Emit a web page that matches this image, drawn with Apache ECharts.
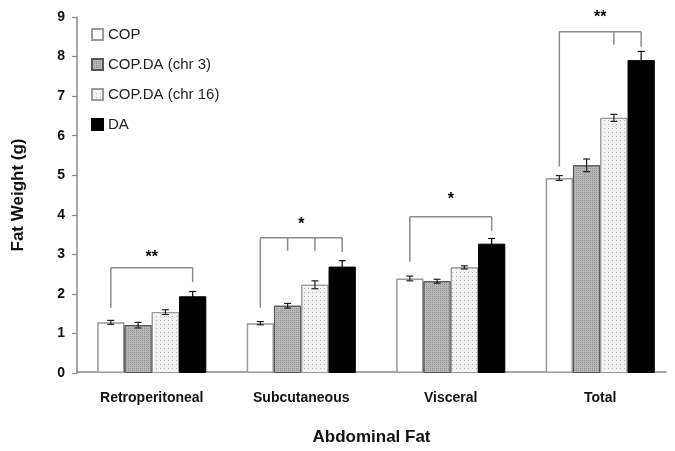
<!DOCTYPE html>
<html>
<head>
<meta charset="utf-8">
<script src="https://cdn.jsdelivr.net/npm/echarts@6/dist/echarts.min.js"></script>
<style>
html,body{margin:0;padding:0;background:#fff;}
#chart{width:675px;height:451px;}
</style>
</head>
<body>
<div id="chart"></div>
<script>
// ---- data ----
const categories = ['Retroperitoneal', 'Subcutaneous', 'Visceral', 'Total'];
const seriesNames = ['COP', 'COP.DA (chr 3)', 'COP.DA (chr 16)', 'DA'];
const copValues   = [1.28, 1.26, 2.39, 4.93];
const chr3Values  = [1.21, 1.70, 2.32, 5.25];
const chr16Values = [1.54, 2.23, 2.67, 6.45];
const daValues    = [1.94, 2.69, 3.27, 7.91];
const copErr   = [0.05, 0.04, 0.06, 0.06];
const chr3Err  = [0.07, 0.06, 0.05, 0.16];
const chr16Err = [0.06, 0.10, 0.04, 0.09];
const daErr    = [0.12, 0.15, 0.13, 0.22];
const yTicks = [0, 1, 2, 3, 4, 5, 6, 7, 8, 9];
// significance brackets: top level, legs [barIndex, leg bottom], star text, star level
const bracketTop = [2.66, 3.42, 3.95, 8.63];
const bracketLegs = [
  [[0, 1.65], [3, 2.30]],
  [[0, 1.65], [1, 3.09], [2, 3.09], [3, 3.06]],
  [[0, 2.81], [3, 3.60]],
  [[0, 5.22], [2, 8.30], [3, 8.25]]
];
const starLabels = ['**', '*', '*', '**'];
const starLevel = [2.91, 3.74, 4.38, 8.98];

// ---- build ----
const allValues = [copValues, chr3Values, chr16Values, daValues];
const allErr = [copErr, chr3Err, chr16Err, daErr];
const CAT_GAP = 0.27;
const FONT = 'Liberation Sans, Arial, sans-serif';

const errData = [];
allValues.forEach((vals, s) => vals.forEach((v, c) => errData.push([c, s, v, allErr[s][c]])));
const bracketData = categories.map((c, i) => [i, bracketTop[i], starLevel[i]]);

function barX(api, cat, idx) {
  const center = api.coord([cat, 0])[0];
  const band = api.size([1, 0])[0];
  const groupW = band * (1 - CAT_GAP);
  const bw = groupW / 4;
  return center - groupW / 2 + bw * (idx + 0.5);
}

const barStyles = [
  { color: '#ffffff', borderColor: '#9a9a9a', borderWidth: 1.5 },
  { color: '#b8b8b8', borderColor: '#555555', borderWidth: 1,
    decal: { symbol: 'rect', symbolSize: 1, dashArrayX: [1, 1], dashArrayY: [1, 1], color: '#909090', rotation: 0 } },
  { color: '#f3f3f3', borderColor: '#9a9a9a', borderWidth: 1,
    decal: { symbol: 'rect', symbolSize: 1, dashArrayX: [1, 3], dashArrayY: [1, 3], color: '#b0b0b0', rotation: 0 } },
  { color: '#000000', borderColor: '#000000', borderWidth: 1 }
];

const series = seriesNames.map((name, s) => ({
  name: name,
  type: 'bar',
  xAxisIndex: 0, yAxisIndex: 0,
  data: allValues[s],
  barGap: '0%',
  barCategoryGap: (CAT_GAP * 100) + '%',
  itemStyle: barStyles[s],
  emphasis: { disabled: true },
  animation: false
}));

series.push({
  type: 'custom',
  xAxisIndex: 0, yAxisIndex: 0,
  data: errData,
  encode: { x: 0, y: 2 },
  z: 5,
  silent: true,
  animation: false,
  renderItem: function (params, api) {
    const cat = api.value(0), idx = api.value(1), v = api.value(2), e = api.value(3);
    const x = barX(api, cat, idx);
    const yt = api.coord([cat, v + e])[1];
    const yb = api.coord([cat, v - e])[1];
    const cap = 3.5;
    const st = { stroke: idx === 3 ? '#000' : '#222', lineWidth: 1.2 };
    return { type: 'group', children: [
      { type: 'line', shape: { x1: x, y1: yt, x2: x, y2: yb }, style: st },
      { type: 'line', shape: { x1: x - cap, y1: yt, x2: x + cap, y2: yt }, style: st },
      { type: 'line', shape: { x1: x - cap, y1: yb, x2: x + cap, y2: yb }, style: st }
    ]};
  }
});

series.push({
  type: 'custom',
  xAxisIndex: 0, yAxisIndex: 0,
  data: bracketData,
  encode: { x: 0, y: 1 },
  z: 6,
  clip: false,
  silent: true,
  animation: false,
  renderItem: function (params, api) {
    const i = params.dataIndex;
    const cat = api.value(0);
    const yTop = api.coord([cat, api.value(1)])[1];
    const legs = bracketLegs[i];
    const xs = legs.map(l => barX(api, cat, l[0]));
    const st = { stroke: '#8c8c8c', lineWidth: 1.5 };
    const children = [
      { type: 'line', shape: { x1: xs[0], y1: yTop, x2: xs[xs.length - 1], y2: yTop }, style: st }
    ];
    legs.forEach((l, k) => {
      const yb = api.coord([cat, l[1]])[1];
      children.push({ type: 'line', shape: { x1: xs[k], y1: yTop, x2: xs[k], y2: yb }, style: st });
    });
    const sy = api.coord([cat, api.value(2)])[1];
    const sx = (xs[0] + xs[xs.length - 1]) / 2;
    children.push({ type: 'text', x: sx, y: sy, style: {
      text: starLabels[i], fill: '#000', font: 'bold 16px ' + FONT, align: 'center', verticalAlign: 'middle' } });
    return { type: 'group', children: children };
  }
});

const option = {
  backgroundColor: '#ffffff',
  animation: false,
  textStyle: { fontFamily: FONT },
  legend: {
    data: seriesNames,
    orient: 'vertical',
    left: 86, top: 22,
    itemWidth: 11, itemHeight: 11, itemGap: 15,
    icon: 'rect',
    textStyle: { fontSize: 15, color: '#222', fontFamily: FONT, lineHeight: 15 },
    selectedMode: false
  },
  grid: [
    { left: 77, top: 17, width: 605, height: 356, containLabel: false },
    { left: 77, top: 17, width: 589, height: 356, containLabel: false }
  ],
  xAxis: [
    {
      type: 'category', gridIndex: 0, data: categories,
      boundaryGap: true,
      axisLine: { show: false },
      axisTick: { show: false },
      axisLabel: { margin: 18, fontSize: 14, fontWeight: 'bold', color: '#111', fontFamily: FONT, interval: 0 }
    },
    {
      type: 'value', gridIndex: 1, min: 0, max: 1,
      axisLine: { show: true, lineStyle: { color: '#8a8a8a', width: 1.5 } },
      axisTick: { show: false }, axisLabel: { show: false }, splitLine: { show: false },
      name: 'Abdominal Fat', nameLocation: 'middle', nameGap: 57,
      nameTextStyle: { fontSize: 17, fontWeight: 'bold', color: '#111', fontFamily: FONT }
    }
  ],
  yAxis: [
    {
      type: 'value', gridIndex: 0, min: yTicks[0], max: yTicks[yTicks.length - 1], interval: 1,
      axisLine: { show: true, lineStyle: { color: '#8a8a8a', width: 1.5 } },
      axisTick: { show: true, length: 5, lineStyle: { color: '#8a8a8a', width: 1.2 } },
      axisLabel: { margin: 12, fontSize: 14, fontWeight: 'bold', color: '#111', fontFamily: FONT },
      splitLine: { show: false },
      name: 'Fat Weight (g)', nameLocation: 'middle', nameGap: 50, nameRotate: 90,
      nameTextStyle: { fontSize: 17, fontWeight: 'bold', color: '#111', fontFamily: FONT }
    },
    {
      type: 'value', gridIndex: 1, show: false, min: 0, max: 1
    }
  ],
  series: series
};

const chart = echarts.init(document.getElementById('chart'), null, { renderer: 'canvas' });
chart.setOption(option);
</script>
</body>
</html>
